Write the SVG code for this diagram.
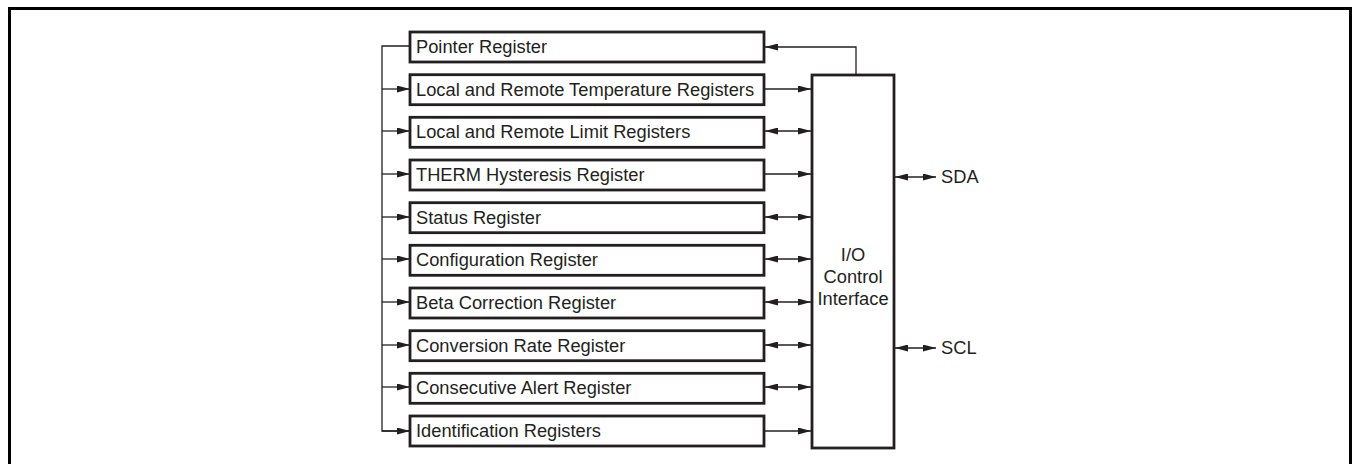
<svg xmlns="http://www.w3.org/2000/svg" width="1353" height="464" viewBox="0 0 1353 464">
<defs>
<marker id="ah" viewBox="0 0 13 7" refX="13" refY="3.5" markerWidth="13" markerHeight="7" markerUnits="userSpaceOnUse" orient="auto-start-reverse">
<path d="M0,0 L13,3.5 L0,7 Z" fill="#231f20"/>
</marker>
</defs>
<style>
.box{fill:#fff;stroke:#231f20;stroke-width:2.8}
.t{font-family:"Liberation Sans",Arial,sans-serif;font-size:18.3px;fill:#231f20}
.c{fill:none;stroke:#231f20;stroke-width:1.3}
.a{marker-end:url(#ah)}
.d{marker-start:url(#ah);marker-end:url(#ah)}
</style>
<rect width="1353" height="464" fill="#fff"/>
<path d="M9.5,464 V8.5 H1350.5 V464" fill="none" stroke="#000" stroke-width="3"/>
<g id="connectors">
<path class="c" d="M410,46 H382 V431 H410"/>
<line class="c a" x1="382" y1="89" x2="410" y2="89"/>
<line class="c a" x1="382" y1="131" x2="410" y2="131"/>
<line class="c a" x1="382" y1="174" x2="410" y2="174"/>
<line class="c a" x1="382" y1="217" x2="410" y2="217"/>
<line class="c a" x1="382" y1="259" x2="410" y2="259"/>
<line class="c a" x1="382" y1="302" x2="410" y2="302"/>
<line class="c a" x1="382" y1="345" x2="410" y2="345"/>
<line class="c a" x1="382" y1="387" x2="410" y2="387"/>
<line class="c a" x1="382" y1="431" x2="410" y2="431"/>
<path class="c a" d="M856,75 V47 H765"/>
<line class="c a" x1="765" y1="89" x2="811" y2="89"/>
<line class="c d" x1="765" y1="131" x2="811" y2="131"/>
<line class="c a" x1="765" y1="174" x2="811" y2="174"/>
<line class="c d" x1="765" y1="217" x2="811" y2="217"/>
<line class="c d" x1="765" y1="259" x2="811" y2="259"/>
<line class="c d" x1="765" y1="302" x2="811" y2="302"/>
<line class="c d" x1="765" y1="345" x2="811" y2="345"/>
<line class="c d" x1="765" y1="387" x2="811" y2="387"/>
<line class="c a" x1="765" y1="431" x2="811" y2="431"/>
<line class="c d" x1="895" y1="177" x2="936" y2="177"/>
<line class="c d" x1="895" y1="348" x2="936" y2="348"/>
</g>
<g id="pointer"><rect class="box" x="410" y="32" width="354" height="30"/><text class="t" x="416" y="53">Pointer Register</text></g>
<g id="temp"><rect class="box" x="410" y="74.7" width="354" height="30"/><text class="t" x="416" y="95.7">Local and Remote Temperature Registers</text></g>
<g id="limit"><rect class="box" x="410" y="117.3" width="354" height="30"/><text class="t" x="416" y="138.3">Local and Remote Limit Registers</text></g>
<g id="therm"><rect class="box" x="410" y="160" width="354" height="30"/><text class="t" x="416" y="181">THERM Hysteresis Register</text></g>
<g id="status"><rect class="box" x="410" y="202.7" width="354" height="30"/><text class="t" x="416" y="223.7">Status Register</text></g>
<g id="config"><rect class="box" x="410" y="245.3" width="354" height="30"/><text class="t" x="416" y="266.3">Configuration Register</text></g>
<g id="beta"><rect class="box" x="410" y="288" width="354" height="30"/><text class="t" x="416" y="309">Beta Correction Register</text></g>
<g id="conv"><rect class="box" x="410" y="330.7" width="354" height="30"/><text class="t" x="416" y="351.7">Conversion Rate Register</text></g>
<g id="consec"><rect class="box" x="410" y="373.3" width="354" height="30"/><text class="t" x="416" y="394.3">Consecutive Alert Register</text></g>
<g id="ident"><rect class="box" x="410" y="416" width="354" height="30"/><text class="t" x="416" y="437">Identification Registers</text></g>
<g id="io"><rect class="box" x="812" y="75" width="82" height="373"/>
<text class="t" text-anchor="middle" x="853" y="261">I/O</text>
<text class="t" text-anchor="middle" x="853" y="283">Control</text>
<text class="t" text-anchor="middle" x="853" y="305">Interface</text></g>
<g id="sda"><text class="t" x="941" y="183">SDA</text></g>
<g id="scl"><text class="t" x="941" y="354">SCL</text></g>
</svg>
